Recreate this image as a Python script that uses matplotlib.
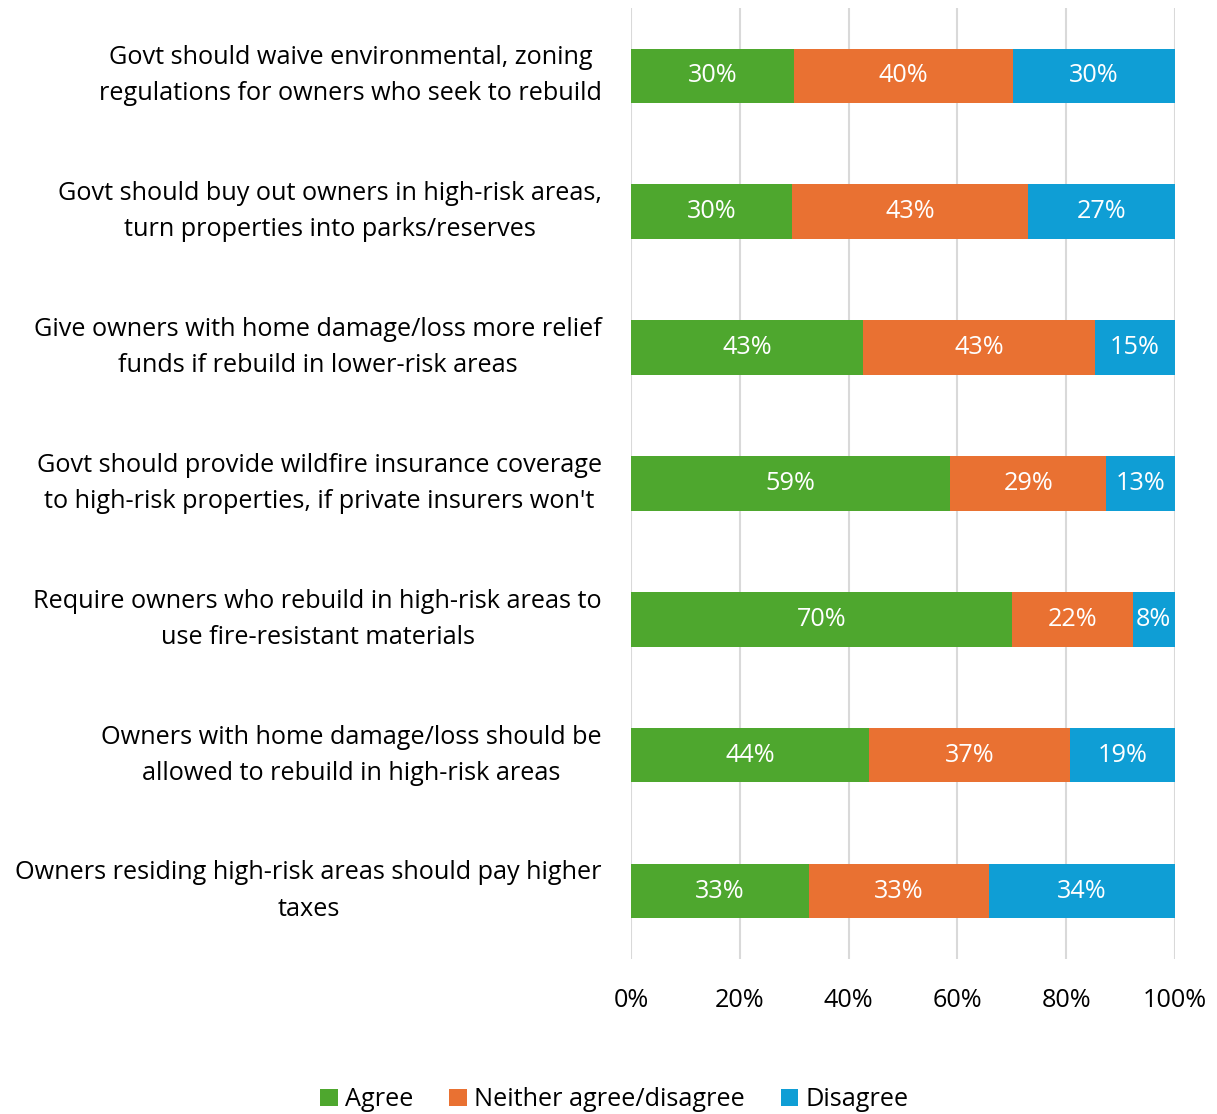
import matplotlib
matplotlib.use("Agg")
import matplotlib.pyplot as plt
import numpy as np

# ── Data ──────────────────────────────────────────────────────────────────────
statements = [
    "Govt should waive environmental, zoning\nregulations for owners who seek to rebuild",
    "Govt should buy out owners in high-risk areas,\nturn properties into parks/reserves",
    "Give owners with home damage/loss more relief\nfunds if rebuild in lower-risk areas",
    "Govt should provide wildfire insurance coverage\nto high-risk properties, if private insurers won't",
    "Require owners who rebuild in high-risk areas to\nuse fire-resistant materials",
    "Owners with home damage/loss should be\nallowed to rebuild in high-risk areas",
    "Owners residing high-risk areas should pay higher\ntaxes",
]
agree    = [30.0, 29.6, 42.6, 58.6, 70.0, 43.8, 32.7]
neither  = [40.2, 43.4, 42.7, 28.8, 22.2, 36.9, 33.1]
disagree = [29.8, 27.0, 14.7, 12.6,  7.8, 19.3, 34.2]
series_names = ["Agree", "Neither agree/disagree", "Disagree"]
colors = ["#4EA72E", "#E97132", "#0F9ED5"]
xticks = [0, 20, 40, 60, 80, 100]

FONT = "Open Sans"
FS = 18.2

fig = plt.figure(figsize=(12.17, 11.14), dpi=100)
ax = fig.add_axes([0.5185, 0.139, 0.447, 0.854])

y = np.arange(len(statements))
left = np.zeros(len(statements))
for vals, name, col in zip([agree, neither, disagree], series_names, colors):
    vals = np.array(vals)
    ax.barh(y, vals, left=left, height=0.40, color=col, label=name, zorder=3)
    for yi, l, v in zip(y, left, vals):
        ax.text(l + v / 2, yi, f"{v:.0f}%", ha="center", va="center",
                color="white", fontsize=FS, family=FONT, zorder=4)
    left += vals

ax.set_ylim(len(statements) - 0.5, -0.5)
ax.set_xlim(0, 100)
ax.set_yticks(y)
ax.set_yticklabels(statements, fontsize=FS, family=FONT)
for lbl in ax.get_yticklabels():
    lbl.set_multialignment("center")
    lbl.set_linespacing(1.6)
    lbl.set_va("center")
ax.set_xticks(xticks)
ax.set_xticklabels([f"{t}%" for t in xticks], fontsize=FS, family=FONT)
ax.tick_params(axis="y", length=0, pad=21)
ax.tick_params(axis="x", length=0, pad=21)
ax.grid(axis="x", color="#D9D9D9", linewidth=1.5, zorder=0)
for s in ax.spines.values():
    s.set_visible(False)

fig.legend(loc="lower center", bbox_to_anchor=(0.505, -0.019), ncol=3,
           frameon=False, prop={"family": FONT, "size": FS},
           handlelength=0.7, handleheight=0.7, handletextpad=0.3,
           columnspacing=1.4)

fig.savefig("out.png", dpi=100)
